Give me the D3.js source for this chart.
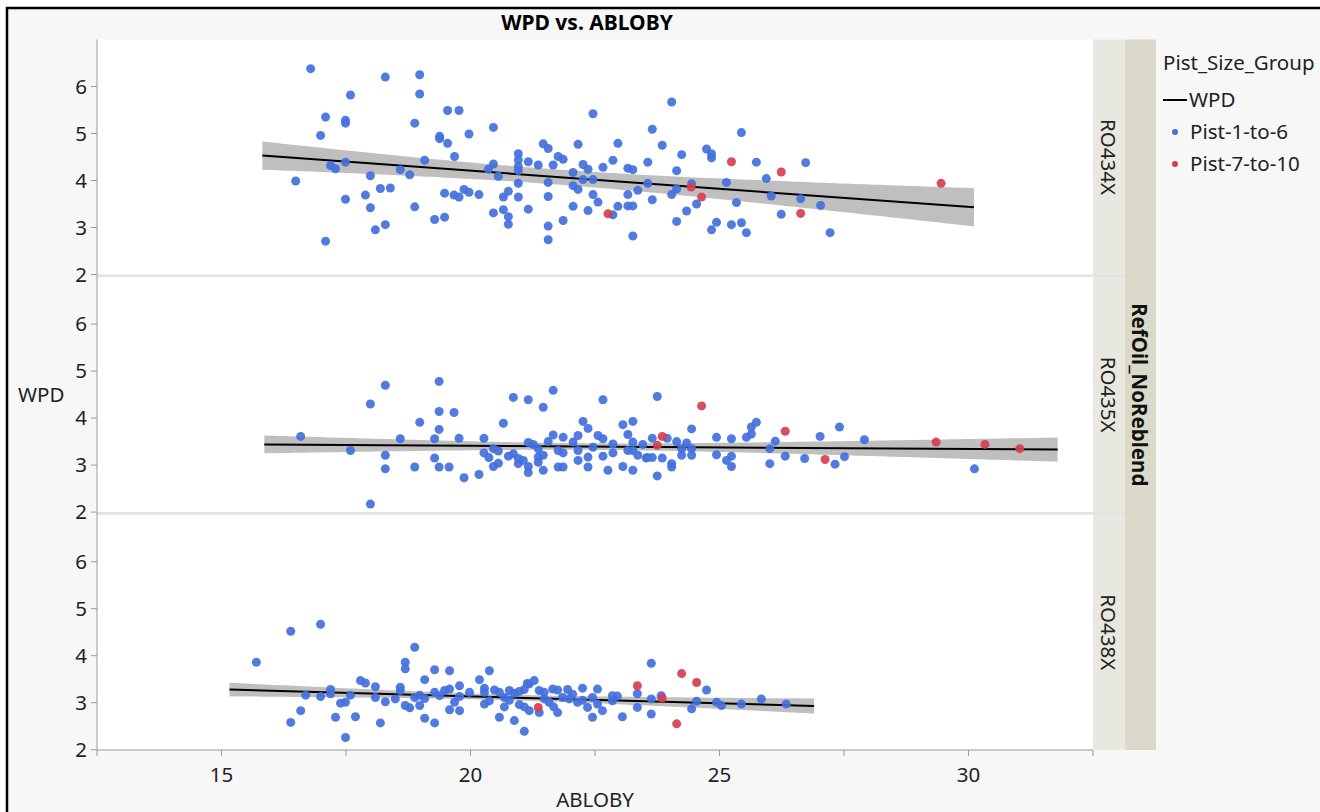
<!DOCTYPE html>
<html>
<head>
<meta charset="utf-8">
<script src="https://cdn.jsdelivr.net/npm/d3@7"></script>
<style>
  body { margin: 0; background: #fff; }
  svg { display: block; font-family: "Noto Sans", "Open Sans", sans-serif; }
</style>
</head>
<body>
<svg id="chart" width="1320" height="812"></svg>
<script>
// Data: [ABLOBY, WPD]
var ro434x_p1to6 = [[16.79,6.38],[16.49,3.99],[17.09,5.35],[16.99,4.96],[17.09,2.71],[17.19,4.32],[17.29,4.25],[17.49,5.28],[17.49,5.22],[17.49,4.39],[17.49,3.60],[17.59,5.82],[17.89,3.69],[17.99,4.10],[17.99,3.42],[18.09,2.95],[18.19,3.83],[18.29,6.20],[18.29,3.06],[18.39,3.84],[18.59,4.23],[18.78,4.12],[18.88,5.22],[18.88,3.44],[18.98,6.25],[18.98,5.84],[19.08,4.43],[19.28,3.17],[19.38,4.94],[19.38,4.89],[19.48,3.73],[19.48,3.22],[19.54,5.49],[19.54,4.79],[19.77,5.49],[19.68,4.51],[19.67,3.69],[19.77,3.65],[19.87,3.81],[19.97,3.75],[19.97,4.99],[20.17,3.70],[20.46,5.13],[20.46,4.35],[20.36,4.24],[20.56,4.09],[20.46,3.31],[20.66,3.65],[20.66,3.38],[20.76,3.77],[20.76,3.23],[20.76,3.07],[20.96,4.57],[20.96,4.44],[20.96,4.30],[20.96,4.21],[20.96,3.94],[20.96,3.65],[21.16,4.40],[21.16,3.39],[21.36,4.33],[21.46,4.78],[21.56,4.68],[21.56,3.96],[21.56,3.66],[21.56,3.03],[21.56,2.74],[21.66,4.33],[21.76,4.51],[21.86,4.45],[21.86,3.15],[22.06,4.17],[22.06,3.89],[22.16,3.81],[22.06,3.45],[22.16,4.77],[22.26,4.34],[22.36,4.24],[22.26,4.02],[22.46,4.02],[22.36,3.36],[22.46,5.42],[22.46,3.70],[22.56,3.54],[22.66,4.28],[22.86,3.27],[22.86,4.43],[22.96,4.79],[22.96,3.45],[23.16,4.26],[23.26,4.23],[23.16,3.70],[23.16,3.46],[23.26,3.46],[23.26,2.82],[23.36,3.79],[23.56,4.39],[23.56,3.94],[23.65,5.09],[23.65,3.59],[23.85,4.75],[24.04,5.67],[24.14,4.21],[24.14,3.82],[24.04,3.70],[24.14,3.13],[24.24,4.55],[24.44,3.93],[24.34,3.35],[24.54,3.50],[24.74,4.67],[24.84,4.57],[24.84,4.48],[24.84,2.95],[24.94,3.11],[25.14,3.96],[25.24,3.06],[25.34,3.53],[25.44,5.02],[25.44,3.10],[25.54,2.89],[25.74,4.39],[25.94,4.04],[26.04,3.67],[26.24,3.28],[26.63,3.61],[26.73,4.38],[27.03,3.47],[27.22,2.89]];
var ro434x_p7to10 = [[22.76,3.29],[24.43,3.86],[24.64,3.65],[25.24,4.40],[26.24,4.18],[26.63,3.30],[29.45,3.94]];

var ro435x_p1to6 = [[16.59,3.61],[17.59,3.31],[17.99,4.30],[17.99,2.17],[18.29,4.70],[18.29,3.21],[18.29,2.92],[18.59,3.56],[18.88,2.96],[18.98,3.91],[19.28,3.56],[19.28,3.15],[19.37,4.78],[19.37,4.14],[19.37,3.76],[19.37,2.96],[19.57,2.96],[19.67,4.12],[19.77,3.57],[19.87,2.73],[20.17,2.80],[20.27,3.57],[20.27,3.26],[20.37,3.16],[20.46,3.35],[20.56,3.30],[20.46,2.97],[20.56,3.04],[20.66,3.89],[20.76,3.19],[20.86,4.44],[20.86,3.24],[20.96,3.14],[20.96,3.03],[21.06,3.10],[21.16,4.39],[21.16,3.48],[21.26,3.44],[21.16,2.97],[21.16,2.84],[21.36,3.35],[21.36,3.17],[21.36,3.06],[21.46,4.23],[21.46,3.21],[21.46,2.89],[21.56,3.50],[21.66,3.64],[21.66,4.59],[21.76,3.31],[21.86,3.26],[21.76,2.96],[21.86,2.96],[21.86,3.59],[22.06,3.49],[22.16,3.63],[22.16,3.31],[22.16,3.10],[22.26,3.93],[22.36,3.78],[22.36,3.17],[22.36,2.96],[22.46,3.38],[22.56,3.63],[22.66,3.56],[22.66,4.39],[22.66,3.19],[22.76,2.89],[22.86,3.45],[22.86,3.26],[23.06,3.86],[23.16,3.65],[23.06,2.97],[23.26,2.89],[23.26,3.93],[23.26,3.49],[23.26,3.31],[23.16,3.31],[23.46,3.44],[23.36,3.21],[23.53,3.15],[23.55,3.16],[23.65,3.16],[23.65,3.57],[23.75,4.46],[23.75,2.77],[23.85,3.15],[23.95,3.57],[24.04,3.03],[24.04,2.96],[24.14,3.50],[24.24,3.35],[24.24,3.21],[24.34,3.47],[24.44,3.77],[24.44,3.35],[24.44,3.21],[24.94,3.59],[24.94,3.22],[25.14,3.10],[25.24,2.97],[25.24,3.56],[25.24,3.19],[25.54,3.59],[25.64,3.66],[25.64,3.81],[25.74,3.91],[26.01,3.35],[26.01,3.03],[26.12,3.51],[26.32,3.19],[26.71,3.14],[27.02,3.61],[27.32,3.02],[27.41,3.81],[27.51,3.18],[27.91,3.54],[30.12,2.92]];
var ro435x_p7to10 = [[23.75,3.42],[23.85,3.61],[24.64,4.26],[26.32,3.72],[27.12,3.12],[29.35,3.49],[30.33,3.44],[31.03,3.35]];

var ro438x_p1to6 = [[15.70,3.86],[16.39,4.52],[16.39,2.58],[16.59,2.83],[16.69,3.16],[16.99,4.67],[16.99,3.13],[17.19,3.28],[17.19,3.19],[17.29,2.69],[17.39,2.99],[17.49,3.01],[17.49,2.26],[17.59,3.16],[17.69,2.70],[17.79,3.47],[17.89,3.42],[18.09,3.34],[18.09,3.11],[18.19,2.57],[18.29,3.02],[18.49,3.08],[18.59,3.33],[18.59,3.26],[18.69,3.86],[18.69,3.72],[18.69,2.94],[18.78,2.89],[18.88,4.18],[18.88,3.11],[18.98,3.16],[18.98,2.94],[19.08,3.49],[19.08,2.67],[19.08,3.09],[19.28,3.70],[19.28,3.22],[19.28,2.57],[19.38,3.15],[19.48,3.26],[19.58,3.29],[19.58,3.68],[19.58,2.85],[19.68,3.01],[19.78,3.36],[19.78,3.13],[19.78,2.83],[19.98,3.22],[20.18,3.49],[20.28,3.31],[20.28,3.22],[20.28,2.97],[20.38,3.68],[20.38,3.04],[20.48,3.27],[20.58,3.22],[20.58,2.69],[20.68,2.91],[20.68,3.11],[20.78,3.26],[20.88,3.20],[20.88,2.62],[20.98,2.96],[21.08,2.91],[21.08,2.39],[21.14,3.41],[21.18,2.83],[21.18,3.40],[21.28,3.47],[21.38,3.26],[21.38,2.79],[21.48,3.08],[21.58,3.01],[21.65,3.29],[21.75,3.27],[21.67,2.91],[21.75,2.79],[21.85,3.11],[22.05,3.18],[22.15,3.01],[22.25,3.31],[22.35,2.90],[22.45,2.69],[22.45,3.11],[22.55,3.29],[22.55,2.97],[22.65,2.83],[22.85,3.15],[22.85,3.04],[23.05,2.70],[23.35,3.19],[23.35,2.90],[23.63,3.84],[23.63,3.08],[23.63,2.76],[23.83,3.15],[24.44,2.87],[24.54,3.03],[24.74,3.27],[24.94,3.01],[25.04,2.94],[25.44,2.97],[25.84,3.08],[26.34,2.97],[20.98,3.24],[21.08,3.28],[20.78,3.05],[21.48,3.22],[21.98,3.08],[22.95,3.14],[22.25,3.05],[21.95,3.28]];
var ro438x_p7to10 = [[21.36,2.90],[23.35,3.36],[23.85,3.10],[24.14,2.55],[24.24,3.62],[24.54,3.43]];

// fitted line for each panel
var panelNames = ["RO434X", "RO435X", "RO438X"];
var fitX = [[15.82, 30.11], [15.86, 31.79], [15.16, 26.90]];
var fitY = [[4.53, 3.43], [3.44, 3.33], [3.28, 2.93]];
var bandCenterX = [21.6, 22.5, 20.7];
var bandMinHalf = [0.16, 0.07, 0.06];
var bandLeftHalf = [0.30, 0.19, 0.145];

var xTicks = [12.5, 15, 17.5, 20, 22.5, 25, 27.5, 30, 32.5];
var xLabels = [15, 20, 25, 30];
var yTicks = [2, 3, 4, 5, 6];

var blue = "#4270dd", red = "#d63e4e";
var fs = 20.5;

var panels = [
  {name: panelNames[0], blue: ro434x_p1to6, red: ro434x_p7to10},
  {name: panelNames[1], blue: ro435x_p1to6, red: ro435x_p7to10},
  {name: panelNames[2], blue: ro438x_p1to6, red: ro438x_p7to10}
];

var svg = d3.select("#chart");
var left = 97, right = 1093, plotTop = 39.5, plotBottom = 750;
var panelH = 235, panelStep = 237.6;

// frame
svg.append("rect").attr("x", 7).attr("y", 8).attr("width", 1340).attr("height", 840)
  .attr("fill", "#f7f7f7").attr("stroke", "#000").attr("stroke-width", 2.5);

svg.append("rect").attr("x", left).attr("y", plotTop).attr("width", right - left)
  .attr("height", plotBottom - plotTop).attr("fill", "#fff");

var x = d3.scaleLinear().domain([12.5, 32.5]).range([left, right]);

// title
svg.append("text").attr("x", 587).attr("y", 30).attr("text-anchor", "middle")
  .attr("font-size", 21).attr("font-weight", "bold").attr("fill", "#000")
  .text("WPD vs. ABLOBY");

// strips
svg.append("rect").attr("x", 1125).attr("y", plotTop).attr("width", 31)
  .attr("height", plotBottom - plotTop).attr("fill", "#dbd9c9");
svg.append("text")
  .attr("transform", "translate(1132," + ((plotTop + plotBottom) / 2) + ") rotate(90)")
  .attr("text-anchor", "middle").attr("font-size", fs).attr("font-weight", "bold")
  .attr("fill", "#111").text("RefOil_NoReblend");

panels.forEach(function(p, i){
  var bottom = 274.5 + i * panelStep;
  var top = bottom - panelH;
  var y = d3.scaleLinear().domain([2, 7]).range([bottom, top]);
  var g = svg.append("g");

  // strip cell
  g.append("rect").attr("x", right).attr("y", top).attr("width", 32)
    .attr("height", panelH).attr("fill", "#e8e8e0");
  g.append("text")
    .attr("transform", "translate(1101," + (top + panelH / 2) + ") rotate(90)")
    .attr("text-anchor", "middle").attr("font-size", fs).attr("fill", "#222")
    .text(p.name);

  // separator
  if(i < 2){
    svg.append("line").attr("x1", left).attr("x2", 1125).attr("y1", bottom + 1.3).attr("y2", bottom + 1.3)
      .attr("stroke", "#e2e2de").attr("stroke-width", 2.6);
  }

  // y ticks
  g.selectAll(".yt").data(yTicks).enter().append("line")
    .attr("x1", left - 6).attr("x2", left)
    .attr("y1", function(d){ return y(d); }).attr("y2", function(d){ return y(d); })
    .attr("stroke", "#9a9a9a");
  g.selectAll(".yl").data(yTicks).enter().append("text")
    .attr("x", left - 10).attr("y", function(d){ return y(d); })
    .attr("dy", "0.35em").attr("text-anchor", "end").attr("font-size", fs).attr("fill", "#222")
    .text(function(d){ return d; });

  // confidence band
  var x0 = fitX[i][0], x1 = fitX[i][1];
  var slope = (fitY[i][1] - fitY[i][0]) / (x1 - x0);
  var h0 = bandMinHalf[i], xm = bandCenterX[i];
  var k2 = Math.pow(x0 - xm, 2) / (Math.pow(bandLeftHalf[i] / h0, 2) - 1);
  var xs = d3.range(x0, x1, 0.1).concat([x1]);
  var fit = function(v){ return fitY[i][0] + slope * (v - x0); };
  var half = function(v){ return h0 * Math.sqrt(1 + Math.pow(v - xm, 2) / k2); };
  var area = d3.area()
    .x(function(d){ return x(d); })
    .y0(function(d){ return y(fit(d) - half(d)); })
    .y1(function(d){ return y(fit(d) + half(d)); });
  g.append("path").datum(xs).attr("d", area).attr("fill", "#bfbfbf");
  g.append("line").attr("x1", x(x0)).attr("x2", x(x1))
    .attr("y1", y(fit(x0))).attr("y2", y(fit(x1)))
    .attr("stroke", "#000").attr("stroke-width", 2);

  // points
  g.selectAll(".pb").data(p.blue).enter().append("circle")
    .attr("cx", function(d){ return x(d[0]); }).attr("cy", function(d){ return y(d[1]); })
    .attr("r", 4.5).attr("fill", blue).attr("fill-opacity", 0.92);
  g.selectAll(".pr").data(p.red).enter().append("circle")
    .attr("cx", function(d){ return x(d[0]); }).attr("cy", function(d){ return y(d[1]); })
    .attr("r", 4.5).attr("fill", red).attr("fill-opacity", 0.92);
});

// y axis line
svg.append("line").attr("x1", left).attr("x2", left).attr("y1", plotTop).attr("y2", plotBottom)
  .attr("stroke", "#9a9a9a");

// x axis
svg.append("line").attr("x1", left).attr("x2", right).attr("y1", plotBottom).attr("y2", plotBottom)
  .attr("stroke", "#9a9a9a");
svg.selectAll(".xt").data(xTicks).enter().append("line")
  .attr("x1", function(d){ return x(d); }).attr("x2", function(d){ return x(d); })
  .attr("y1", plotBottom).attr("y2", plotBottom + 6).attr("stroke", "#9a9a9a");
svg.selectAll(".xl").data(xLabels).enter().append("text")
  .attr("x", function(d){ return x(d); }).attr("y", 782)
  .attr("text-anchor", "middle").attr("font-size", fs).attr("fill", "#222")
  .text(function(d){ return d; });
svg.append("text").attr("x", 595).attr("y", 807).attr("text-anchor", "middle")
  .attr("font-size", fs).attr("fill", "#222").text("ABLOBY");
svg.append("text").attr("x", 18).attr("y", 402)
  .attr("font-size", fs).attr("fill", "#222").text("WPD");

// legend
var lg = svg.append("g");
lg.append("text").attr("x", 1163).attr("y", 70).attr("font-size", fs).attr("fill", "#222").text("Pist_Size_Group");
lg.append("line").attr("x1", 1163).attr("x2", 1187).attr("y1", 100).attr("y2", 100)
  .attr("stroke", "#000").attr("stroke-width", 2);
lg.append("text").attr("x", 1189).attr("y", 107).attr("font-size", fs).attr("fill", "#222").text("WPD");
var legendItems = [["Pist-1-to-6", blue], ["Pist-7-to-10", red]];
lg.selectAll(".li").data(legendItems).enter().append("circle")
  .attr("cx", 1175).attr("cy", function(d, j){ return 132 + j * 32; }).attr("r", 3)
  .attr("fill", function(d){ return d[1]; });
lg.selectAll(".lt").data(legendItems).enter().append("text")
  .attr("x", 1190).attr("y", function(d, j){ return 139 + j * 32; })
  .attr("font-size", fs).attr("fill", "#222").text(function(d){ return d[0]; });
</script>
</body>
</html>
